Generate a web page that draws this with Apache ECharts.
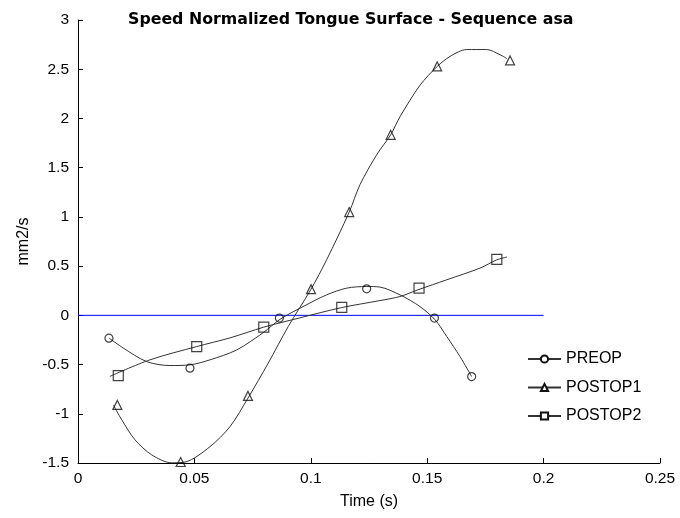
<!DOCTYPE html>
<html>
<head>
<meta charset="utf-8">
<script src="https://cdn.jsdelivr.net/npm/echarts@6/dist/echarts.min.js"></script>
<style>html,body{margin:0;padding:0;background:#fff}#c{width:680px;height:518px}</style>
</head>
<body>
<div id="c"></div>
<script>
// Marker samples (time in s, value in mm2/s)
const preopX = [0.0133, 0.0481, 0.0865, 0.1240, 0.1531, 0.1691];
const preopY = [-0.232, -0.537, -0.028, 0.269, -0.028, -0.622];
const post1X = [0.0169, 0.0441, 0.0730, 0.1001, 0.1165, 0.1343, 0.1543, 0.1856];
const post1Y = [-0.910, -1.490, -0.818, 0.266, 1.049, 1.834, 2.528, 2.589];
const post2X = [0.0173, 0.0510, 0.0798, 0.1133, 0.1465, 0.1799];
const post2Y = [-0.612, -0.317, -0.120, 0.081, 0.276, 0.568];

// Fitted curves
const preopCurveX = [0.0134, 0.0195, 0.0295, 0.0395, 0.0481, 0.0567, 0.0682, 0.0796, 0.0868, 0.0954, 0.1068, 0.1154, 0.1240, 0.1297, 0.1383, 0.1469, 0.1534, 0.1584, 0.1641, 0.1691];
const preopCurveY = [-0.232, -0.333, -0.470, -0.510, -0.503, -0.452, -0.351, -0.175, -0.040, 0.073, 0.208, 0.276, 0.293, 0.287, 0.208, 0.089, -0.046, -0.215, -0.419, -0.622];
const post1CurveX = [0.0152, 0.0188, 0.0245, 0.0317, 0.0402, 0.0460, 0.0567, 0.0653, 0.0730, 0.0817, 0.0903, 0.1001, 0.1068, 0.1165, 0.1211, 0.1283, 0.1343, 0.1383, 0.1469, 0.1543, 0.1598, 0.1670, 0.1756, 0.1813, 0.1843];
const post1CurveY = [-0.910, -1.062, -1.265, -1.418, -1.498, -1.490, -1.334, -1.130, -0.841, -0.486, -0.114, 0.266, 0.564, 1.049, 1.326, 1.631, 1.834, 2.017, 2.337, 2.528, 2.630, 2.700, 2.700, 2.647, 2.607];
const post2CurveX = [0.0137, 0.0309, 0.0510, 0.0653, 0.0798, 0.0954, 0.1133, 0.1297, 0.1383, 0.1460, 0.1584, 0.1727, 0.1799, 0.1843];
const post2CurveY = [-0.620, -0.452, -0.317, -0.229, -0.120, -0.025, 0.079, 0.150, 0.191, 0.259, 0.361, 0.480, 0.564, 0.592];

const zeroLineX = [0, 0.2];
const zeroLineY = [0, 0];

const names = ['PREOP', 'POSTOP1', 'POSTOP2'];
const symbols = ['circle', 'triangle', 'rect'];
const symSizes = [8, 9, 10];

function pairs(xs, ys) { return xs.map((x, i) => [x, ys[i]]); }

const curves = [[preopCurveX, preopCurveY], [post1CurveX, post1CurveY], [post2CurveX, post2CurveY]];
const marks = [[preopX, preopY], [post1X, post1Y], [post2X, post2Y]];

const FONT = 'Liberation Sans';
const series = [];
series.push({
  type: 'line', name: 'zero', data: pairs(zeroLineX, zeroLineY),
  symbol: 'none', lineStyle: { color: '#0000ff', width: 1 }, silent: true, z: 1
});
names.forEach((n, i) => {
  series.push({
    type: 'line', name: n, data: pairs(curves[i][0], curves[i][1]),
    smooth: 0.3, showSymbol: false, symbol: symbols[i], symbolSize: symSizes[i],
    lineStyle: { color: '#333', width: 1 },
    itemStyle: { color: '#fff', borderColor: '#111', borderWidth: 1 },
    z: 2
  });
  series.push({
    type: 'scatter', name: n + '_m', data: pairs(marks[i][0], marks[i][1]),
    symbol: symbols[i], symbolSize: symSizes[i], clip: false,
    itemStyle: { color: 'rgba(255,255,255,0)', borderColor: '#111', borderWidth: 1.2 },
    z: 3
  });
});

const chart = echarts.init(document.getElementById('c'), null, { renderer: 'canvas' });
chart.setOption({
  animation: false,
  backgroundColor: '#fff',
  title: {
    text: 'Speed Normalized Tongue Surface - Sequence asa',
    left: 123, top: 7,
    textStyle: { fontFamily: 'DejaVu Sans', fontWeight: 'bold', fontSize: 15.8, color: '#000' }
  },
  legend: {
    data: names.map(n => ({ name: n })),
    orient: 'vertical', left: 522, top: 346,
    itemWidth: 33, itemHeight: 9, itemGap: 12.5,
    textStyle: { fontFamily: FONT, fontSize: 16, lineHeight: 16, color: '#000' },
    selectedMode: false
  },
  grid: { left: 78, right: 20, top: 20, bottom: 55, containLabel: false },
  xAxis: {
    type: 'value', min: 0, max: 0.25, interval: 0.05,
    name: 'Time (s)', nameLocation: 'middle', nameGap: 31,
    nameTextStyle: { fontFamily: FONT, fontSize: 16, color: '#000' },
    axisLine: { show: true, onZero: false, lineStyle: { color: '#000', width: 1 } },
    axisTick: { show: true, inside: true, length: 5, lineStyle: { color: '#000' } },
    axisLabel: { fontFamily: FONT, fontSize: 15.5, color: '#000', margin: 8,
      formatter: v => String(parseFloat(v.toFixed(4))) },
    splitLine: { show: false }
  },
  yAxis: {
    type: 'value', min: -1.5, max: 3, interval: 0.5,
    name: 'mm2/s', nameLocation: 'middle', nameGap: 46,
    nameTextStyle: { fontFamily: FONT, fontSize: 16, color: '#000' },
    axisLine: { show: true, onZero: false, lineStyle: { color: '#000', width: 1 } },
    axisTick: { show: true, inside: true, length: 5, lineStyle: { color: '#000' } },
    axisLabel: { fontFamily: FONT, fontSize: 15.5, color: '#000', margin: 9,
      formatter: v => String(parseFloat(v.toFixed(4))) },
    splitLine: { show: false }
  },
  series: series
});
</script>
</body>
</html>
